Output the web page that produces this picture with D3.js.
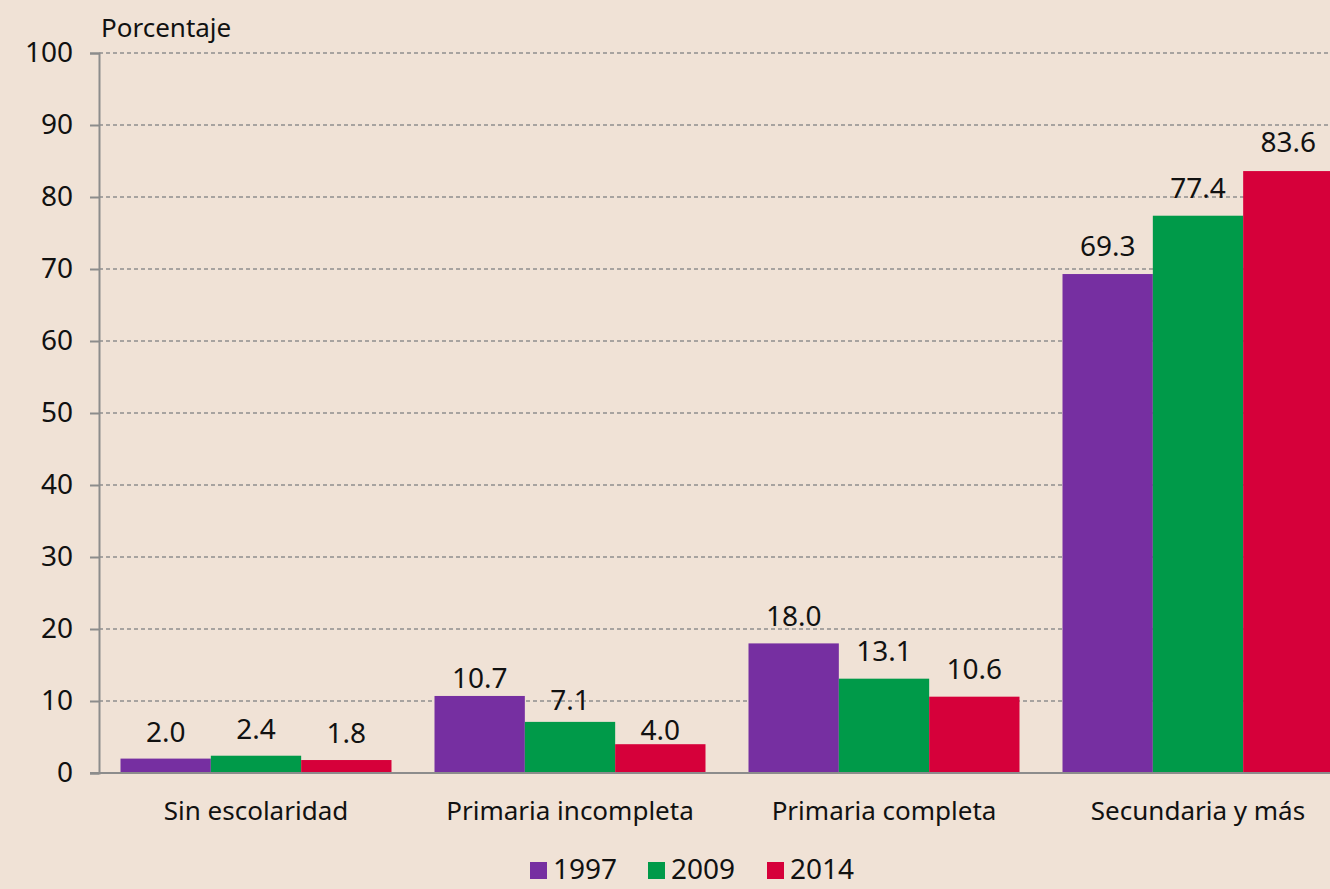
<!DOCTYPE html>
<html>
<head>
<meta charset="utf-8">
<script src="https://cdn.jsdelivr.net/npm/d3@7"></script>
<style>
  html, body { margin: 0; padding: 0; background: #f0e2d6; }
  #chart { width: 1330px; height: 889px; }
  text { font-family: "Noto Sans", sans-serif; fill: #111; }
</style>
</head>
<body>
<div id="chart"></div>
<script>
const categories = ["Sin escolaridad", "Primaria incompleta", "Primaria completa", "Secundaria y más"];
const years = ["1997", "2009", "2014"];
const values1997 = [2.0, 10.7, 18.0, 69.3];
const values2009 = [2.4, 7.1, 13.1, 77.4];
const values2014 = [1.8, 4.0, 10.6, 83.6];
const yTicks = [0, 10, 20, 30, 40, 50, 60, 70, 80, 90, 100];
const colors = ["#762fa1", "#009a49", "#d6003a"];

// gap (px) between bar top and label baseline, per category / series
const labelGap = [[17, 17, 17], [8, 12, 4], [17, 18, 18], [18, 18, 19]];

const width = 1330;
const height = 889;
const series = [values1997, values2009, values2014];

const svg = d3.select("#chart").append("svg")
  .attr("width", width)
  .attr("height", height);

svg.append("rect").attr("width", width).attr("height", height).attr("fill", "#f0e2d6");

const plotLeft = 99;
const plotTop = 53;
const plotBottom = 773;

const y = d3.scaleLinear().domain([0, 100]).range([plotBottom, plotTop]);

const x0 = d3.scaleBand()
  .domain(categories)
  .range([plotLeft, plotLeft + 4 * 314])
  .paddingInner(0.137)
  .paddingOuter(0.0685);

const x1 = d3.scaleBand()
  .domain(years)
  .range([0, x0.bandwidth()]);

// grid lines
svg.append("g")
  .selectAll("line")
  .data(yTicks.filter(d => d > 0))
  .enter()
  .append("line")
  .attr("x1", plotLeft)
  .attr("x2", width)
  .attr("y1", d => y(d))
  .attr("y2", d => y(d))
  .attr("stroke", "#8f8f8f")
  .attr("stroke-width", 1.3)
  .attr("stroke-dasharray", "4,3");

// y axis
const yAxis = svg.append("g")
  .attr("transform", `translate(${plotLeft},0)`)
  .call(d3.axisLeft(y).tickValues(yTicks).tickSize(9).tickPadding(17));
yAxis.select(".domain").attr("stroke", "#8c8c8c").attr("stroke-width", 2);
yAxis.selectAll(".tick line").attr("stroke", "#8c8c8c").attr("stroke-width", 2);
yAxis.selectAll(".tick text")
  .attr("font-size", 28)
  .attr("font-family", "Noto Sans, sans-serif")
  .attr("fill", "#111");

// bars
const groups = svg.append("g")
  .selectAll("g")
  .data(categories)
  .enter()
  .append("g")
  .attr("transform", c => `translate(${x0(c)},0)`);

const cells = (c, ci) => years.map((yr, si) => ({ yr, si, ci, v: series[si][ci] }));

groups.selectAll("rect")
  .data(cells)
  .enter()
  .append("rect")
  .attr("x", d => x1(d.yr))
  .attr("width", x1.bandwidth())
  .attr("y", d => y(d.v))
  .attr("height", d => y(0) - y(d.v))
  .attr("fill", d => colors[d.si]);

groups.selectAll("text")
  .data(cells)
  .enter()
  .append("text")
  .attr("x", d => x1(d.yr) + x1.bandwidth() / 2)
  .attr("y", d => y(d.v) - labelGap[d.ci][d.si])
  .attr("text-anchor", "middle")
  .attr("font-size", 28)
  .text(d => d.v.toFixed(1));

// x axis line
svg.append("line")
  .attr("x1", 90)
  .attr("x2", width)
  .attr("y1", plotBottom)
  .attr("y2", plotBottom)
  .attr("stroke", "#8c8c8c")
  .attr("stroke-width", 2);

// category labels
svg.append("g")
  .selectAll("text")
  .data(categories)
  .enter()
  .append("text")
  .attr("x", c => x0(c) + x0.bandwidth() / 2)
  .attr("y", 820)
  .attr("text-anchor", "middle")
  .attr("font-size", 26)
  .text(c => c);

// axis title
svg.append("text")
  .attr("x", 101)
  .attr("y", 37)
  .attr("font-size", 26)
  .text("Porcentaje");

// legend
const legendX = [530, 648, 767];
const legend = svg.append("g")
  .selectAll("g")
  .data(years)
  .enter()
  .append("g")
  .attr("transform", (d, i) => `translate(${legendX[i]},862)`);

legend.append("rect")
  .attr("width", 17)
  .attr("height", 17)
  .attr("fill", (d, i) => colors[i]);

legend.append("text")
  .attr("x", 23)
  .attr("y", 17)
  .attr("font-size", 28)
  .text(d => d);
</script>
</body>
</html>
